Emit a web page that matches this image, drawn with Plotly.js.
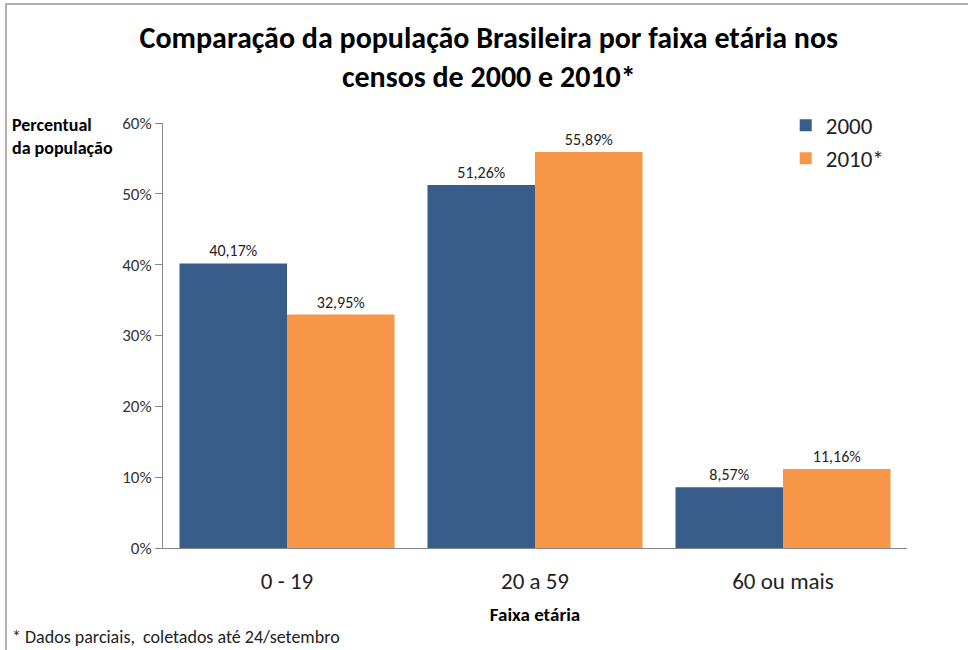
<!DOCTYPE html>
<html><head><meta charset="utf-8">
<script src="https://cdn.plot.ly/plotly-3.0.1.min.js"></script>
<style>
html,body{margin:0;padding:0;background:#fff;}
#wrap{position:relative;width:968px;height:650px;overflow:hidden;}
#frame{position:absolute;left:5px;top:3px;right:-10px;bottom:-10px;border-top:2px solid #b0b0b0;border-left:2px solid #b0b0b0;pointer-events:none;}
#chart{width:968px;height:650px;}
</style></head>
<body><div id="wrap"><div id="chart"></div><div id="frame"></div></div>
<script>
const categories = ['0 - 19', '20 a 59', '60 ou mais'];
const series2000 = [40.17, 51.26, 8.57];
const series2010 = [32.95, 55.89, 11.16];
const seriesNames = ['2000', '2010*'];

const font = 'Calibri, Carlito, "Open Sans", "Noto Sans", sans-serif';
const traces = [
  {type:'bar', name:seriesNames[0], x:categories, y:series2000, marker:{color:'#385d8a'},
   texttemplate:'%{y:.2f}%', textposition:'outside', cliponaxis:false,
   textfont:{size:16, color:'#222', family:font}},
  {type:'bar', name:seriesNames[1], x:categories, y:series2010, marker:{color:'#f79646'},
   texttemplate:'%{y:.2f}%', textposition:'outside', cliponaxis:false,
   textfont:{size:16, color:'#222', family:font}}
];
const layout = {
  width:968, height:650,
  margin:{l:163, r:61, t:123, b:102},
  paper_bgcolor:'#fff', plot_bgcolor:'#fff',
  separators:',.',
  font:{family:font, color:'#222'},
  barmode:'group', bargap:0.133, bargroupgap:0,
  title:{text:'<b>Comparação da população Brasileira por faixa etária nos<br>censos de 2000 e 2010*</b>',
         font:{size:30, color:'#000', family:font}, x:0.505, xanchor:'center', y:0.926, yanchor:'top'},
  xaxis:{showline:true, linecolor:'#888', linewidth:1, ticks:'', tickfont:{size:23, color:'#222'},
         ticklabelstandoff:12,
         title:{text:'<b>Faixa etária</b>', font:{size:19, color:'#000'}, standoff:14}},
  yaxis:{range:[0,60], dtick:10, ticksuffix:'%', showline:true, linecolor:'#888', linewidth:1,
         ticks:'outside', ticklen:7, tickcolor:'#888', showgrid:false, zeroline:false,
         tickfont:{size:17, color:'#333'}},
  legend:{x:0.837, xanchor:'left', y:1.045, yanchor:'top', font:{size:23, color:'#222'},
          bgcolor:'rgba(0,0,0,0)', itemwidth:30, tracegroupgap:0},
  annotations:[
    {text:'<b>Percentual<br>da população</b>', xref:'paper', yref:'paper', x:-0.206, y:1.025,
     xanchor:'left', yanchor:'top', align:'left', showarrow:false, font:{size:18, color:'#000'}},
    {text:'* Dados parciais,  coletados até 24/setembro', xref:'paper', yref:'paper', x:-0.206, y:-0.178,
     xanchor:'left', yanchor:'top', align:'left', showarrow:false, font:{size:18, color:'#222'}}
  ]
};
Plotly.newPlot('chart', traces, layout, {displayModeBar:false, staticPlot:true});
</script></body></html>
